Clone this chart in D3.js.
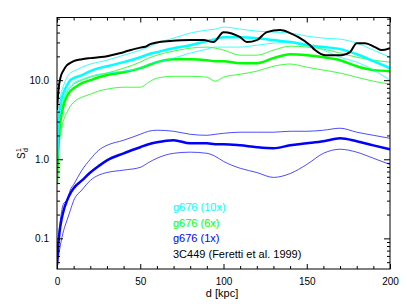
<!DOCTYPE html>
<html>
<head>
<meta charset="utf-8">
<script src="https://cdn.jsdelivr.net/npm/d3@7"></script>
<style>
body { margin: 0; background: #fff; }
text { font-family: "Liberation Sans", Arial, sans-serif; }
</style>
</head>
<body>
<svg id="chart" width="407" height="306"></svg>
<script>
// distance grid shared by the g676 profiles [kpc]
var dGrid = [0, 1, 2, 4, 6, 8, 10, 15, 20, 25, 30, 40, 50, 55, 60, 70, 80, 90, 95, 100, 110, 120, 130, 140, 150, 160, 170, 180, 190, 200];

// g676 (10x)
var cyanMid = [0.97, 3.12, 4.83, 7.05, 8.6, 10.0, 10.6, 11.6, 13.0, 14.2, 15.0, 16.9, 19.5, 21.3, 22.6, 25.4, 27.7, 31.2, 33.0, 35.0, 35.0, 34.0, 32.1, 30.3, 27.7, 26.2, 24.7, 21.3, 17.4, 14.2];
var cyanHigh = [0.97, 3.61, 5.92, 8.6, 10.9, 12.3, 13.0, 14.6, 16.0, 16.9, 17.9, 20.7, 24.0, 26.2, 29.4, 34.0, 39.4, 43.0, 44.2, 46.9, 44.2, 41.7, 40.5, 39.4, 36.1, 34.0, 33.0, 29.4, 24.0, 19.5];
var cyanLow = [0.97, 2.69, 4.17, 6.09, 7.5, 8.4, 9.2, 10.3, 11.2, 11.9, 12.3, 13.0, 14.2, 16.0, 16.9, 19.0, 22.0, 24.7, 26.2, 26.2, 26.2, 27.7, 29.4, 30.3, 28.6, 24.0, 19.5, 16.9, 13.4, 10.0];

// g676 (6x)
var greenMid = [0.50, 1.74, 2.94, 4.83, 6.27, 7.3, 7.9, 9.2, 10.0, 10.9, 11.6, 12.6, 14.2, 15.5, 16.9, 18.4, 18.4, 17.9, 17.4, 17.4, 16.4, 16.4, 19.0, 21.3, 20.7, 19.5, 17.9, 15.0, 13.4, 13.0];
var greenHigh = [0.50, 2.01, 3.40, 5.58, 7.05, 8.15, 8.9, 10.0, 10.9, 11.6, 12.3, 14.2, 16.9, 19.0, 20.7, 23.3, 25.4, 26.2, 25.4, 24.0, 20.7, 20.7, 24.0, 26.9, 26.2, 24.7, 22.0, 19.5, 17.9, 16.9];
var greenLow = [0.50, 1.30, 2.01, 3.12, 3.94, 4.69, 5.27, 6.09, 6.65, 7.3, 7.7, 8.15, 8.15, 9.4, 10.6, 11.2, 11.2, 10.9, 9.7, 10.9, 11.9, 13.0, 15.0, 16.0, 14.6, 13.4, 12.3, 10.9, 9.7, 8.9];

// g676 (1x)
var blueMid = [0.046, 0.094, 0.142, 0.226, 0.30, 0.37, 0.43, 0.54, 0.68, 0.82, 0.97, 1.19, 1.42, 1.55, 1.64, 1.74, 1.59, 1.59, 1.55, 1.55, 1.50, 1.42, 1.38, 1.50, 1.59, 1.69, 1.84, 1.69, 1.50, 1.34];
var blueHigh = [0.046, 0.109, 0.169, 0.277, 0.30, 0.41, 0.48, 0.73, 1.0, 1.30, 1.50, 1.74, 2.07, 2.26, 2.33, 2.26, 2.07, 2.01, 2.07, 2.13, 2.20, 2.20, 2.20, 2.26, 2.26, 2.33, 2.47, 2.20, 2.01, 1.84];
var blueLow = [0.042, 0.061, 0.081, 0.126, 0.169, 0.226, 0.30, 0.41, 0.54, 0.63, 0.68, 0.73, 0.79, 0.91, 1.03, 1.19, 1.23, 1.19, 1.09, 0.94, 0.77, 0.68, 0.59, 0.66, 0.86, 1.19, 1.34, 1.23, 1.03, 0.86];

// 3C449 (Feretti et al. 1999)
var ferettiD = [0, 1, 2, 4, 6, 8, 10, 15, 20, 25, 30, 40, 50, 53, 56, 60, 68, 80, 88, 94, 100, 110, 114, 120, 126, 134, 140, 145, 152, 155, 161, 171, 176, 180, 185, 191, 195, 200];
var ferettiS = [4.2, 7.9, 10.6, 13.4, 15.5, 16.5, 17.4, 18.4, 19.0, 19.5, 20.1, 22.6, 25.8, 26.4, 28.6, 30.0, 31.2, 32.1, 32.1, 30.3, 40.5, 35.0, 30.3, 32.1, 40.5, 43.0, 39.4, 35.0, 27.7, 24.0, 20.7, 20.7, 22.6, 29.4, 29.4, 26.2, 24.0, 25.4];

var xTicks = [0, 50, 100, 150, 200];
var yTicks = [0.1, 1, 10];
var yTickLabels = ["0.1", "1.0", "10.0"];
var legendLabels = ["g676 (10x)", "g676 (6x)", "g676 (1x)", "3C449 (Feretti et al. 1999)"];
var legendColors = ["#00ffff", "#00ff00", "#0000ff", "#000000"];

var svg = d3.select("#chart");
var x0 = 57, x1 = 390, y0 = 269, y1 = 17.5;

var x = d3.scaleLinear().domain([0, 200]).range([x0, x1]);
var y = d3.scaleLog().domain([0.041, 62]).range([y0, y1]);

function zip(ds, vs) {
    return ds.map(function (d, i) { return [d, vs[i]]; });
}

var series = [
    { pts: zip(dGrid, blueHigh), color: "#0000ff", w: 1, op: 0.7 },
    { pts: zip(dGrid, blueLow), color: "#0000ff", w: 1, op: 0.7 },
    { pts: zip(dGrid, blueMid), color: "#0000ff", w: 2.5, op: 1 },
    { pts: zip(dGrid, greenHigh), color: "#00ff00", w: 1, op: 0.75 },
    { pts: zip(dGrid, greenLow), color: "#00ff00", w: 1, op: 0.75 },
    { pts: zip(dGrid, greenMid), color: "#00ff00", w: 2.5, op: 1 },
    { pts: zip(dGrid, cyanHigh), color: "#00ffff", w: 1, op: 0.75 },
    { pts: zip(dGrid, cyanLow), color: "#00ffff", w: 1, op: 0.75 },
    { pts: zip(dGrid, cyanMid), color: "#00ffff", w: 2.5, op: 1 },
    { pts: zip(ferettiD, ferettiS), color: "#000000", w: 2, op: 1 }
];

var line = d3.line()
    .x(function (p) { return x(p[0]); })
    .y(function (p) { return y(p[1]); })
    .curve(d3.curveMonotoneX);

svg.append("defs").append("clipPath").attr("id", "plotclip")
    .append("rect").attr("x", x0).attr("y", y1).attr("width", x1 - x0).attr("height", y0 - y1);

svg.append("g").attr("clip-path", "url(#plotclip)")
    .selectAll("path").data(series).enter().append("path")
    .attr("d", function (s) { return line(s.pts); })
    .attr("fill", "none")
    .attr("stroke", function (s) { return s.color; })
    .attr("stroke-width", function (s) { return s.w; })
    .attr("stroke-opacity", function (s) { return s.op; })
    .attr("stroke-linejoin", "round");

// minor tick positions
var xMinor = d3.range(0, 201, 10).filter(function (v) { return v % 50 !== 0; });
var yMinor = [];
[0.01, 0.1, 1, 10].forEach(function (dec) {
    for (var k = 2; k <= 9; k++) {
        var v = k * dec;
        if (v >= 0.041 && v <= 62) yMinor.push(v);
    }
});

function tickAxis(gen, scale, vals, size, fmt) {
    return gen(scale).tickValues(vals).tickSize(size).tickSizeOuter(0).tickFormat(fmt);
}

var axes = svg.append("g").attr("class", "axes");

axes.append("g").attr("transform", "translate(0," + y0 + ")")
    .call(tickAxis(d3.axisBottom, x, xTicks, -5, function (v) { return v; }).tickPadding(9));
axes.append("g").attr("transform", "translate(0," + y0 + ")")
    .call(tickAxis(d3.axisBottom, x, xMinor, -3, ""));
axes.append("g").attr("transform", "translate(0," + y1 + ")")
    .call(tickAxis(d3.axisTop, x, xTicks, -5, ""));
axes.append("g").attr("transform", "translate(0," + y1 + ")")
    .call(tickAxis(d3.axisTop, x, xMinor, -3, ""));

axes.append("g").attr("transform", "translate(" + x0 + ",0)")
    .call(tickAxis(d3.axisLeft, y, yTicks, -6, function (v, i) { return yTickLabels[i]; }).tickPadding(8));
axes.append("g").attr("transform", "translate(" + x0 + ",0)")
    .call(tickAxis(d3.axisLeft, y, yMinor, -3, ""));
axes.append("g").attr("transform", "translate(" + x1 + ",0)")
    .call(tickAxis(d3.axisRight, y, yTicks, -6, ""));
axes.append("g").attr("transform", "translate(" + x1 + ",0)")
    .call(tickAxis(d3.axisRight, y, yMinor, -3, ""));

axes.selectAll(".domain").remove();
axes.selectAll("line").attr("stroke", "#000");
axes.selectAll("text").attr("font-size", 10).attr("fill", "#000")
    .attr("font-family", "'Liberation Sans', Arial, sans-serif");

svg.append("rect")
    .attr("x", x0).attr("y", y1).attr("width", x1 - x0).attr("height", y0 - y1)
    .attr("fill", "none").attr("stroke", "#000").attr("stroke-width", 1);

// axis titles
svg.append("text").attr("x", 222).attr("y", 297).attr("text-anchor", "middle")
    .attr("font-size", 11).text("d [kpc]");

var yl = svg.append("g").attr("transform", "translate(25,159) rotate(-90)");
yl.append("text").attr("x", 0).attr("y", 0).attr("font-size", 10).text("S");
yl.append("text").attr("x", 7).attr("y", -4).attr("font-size", 7).text("1");
yl.append("text").attr("x", 7).attr("y", 3).attr("font-size", 7).text("d");

// legend
svg.append("g").selectAll("text").data(legendLabels).enter().append("text")
    .attr("x", 173)
    .attr("y", function (t, i) { return 211 + i * 15.5; })
    .attr("font-size", 11)
    .attr("fill", function (t, i) { return legendColors[i]; })
    .text(function (t) { return t; });
</script>
</body>
</html>
